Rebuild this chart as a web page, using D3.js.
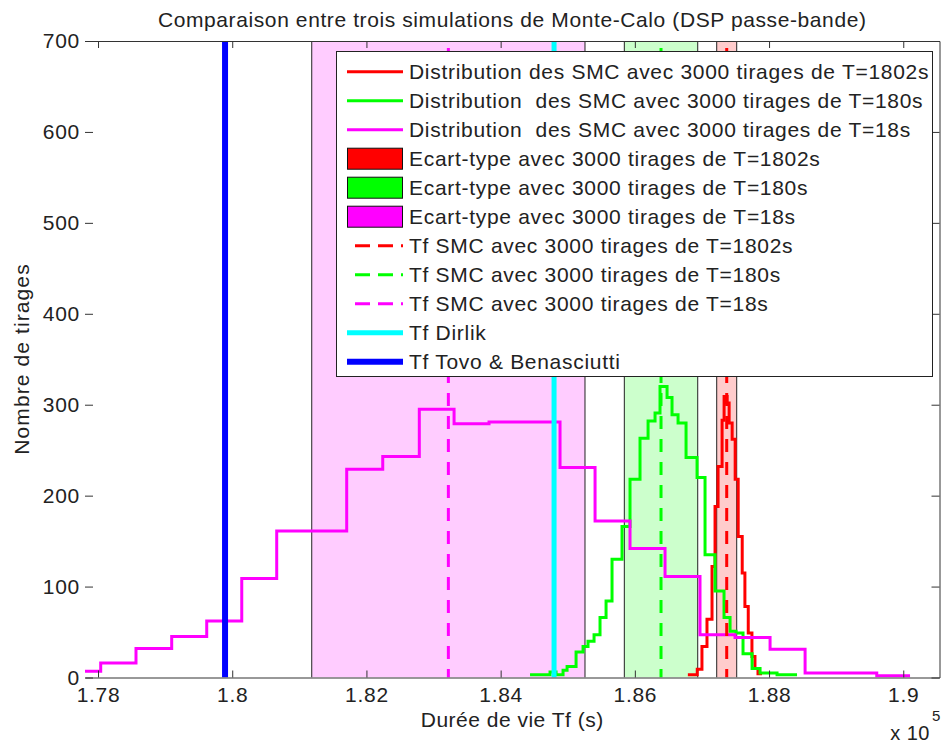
<!DOCTYPE html>
<html>
<head>
<meta charset="utf-8">
<script src="https://cdn.jsdelivr.net/npm/d3@7"></script>
<style>
  html, body { margin: 0; padding: 0; background: #fff; }
  svg { display: block; font-family: "Liberation Sans", Arial, sans-serif; }
</style>
</head>
<body>
<svg id="chart" width="941" height="744"></svg>
<script>
// Monte-Carlo fatigue-life histograms (bin edges in s, counts per bin)
const edges18 = [177516, 178040, 178566, 179098, 179620, 180142, 180663, 181185, 181706,
  182243, 182788, 183306, 183827, 184349, 184885, 185407, 185928, 186450, 186971, 187493,
  188015, 188537, 189058, 189605, 190101];
const counts18 = [7, 16, 32, 45, 62, 109, 161, 161, 229, 243, 295, 279, 281, 281, 231, 172,
  142, 111, 47, 44, 31, 5, 5, 2];

const edges180 = [184438, 184736, 184826, 184930, 184990, 185124, 185228, 185302, 185392,
  185481, 185571, 185660, 185809, 185928, 186077, 186197, 186301, 186375, 186480, 186554,
  186644, 186763, 186927, 187046, 187195, 187329, 187419, 187508, 187612, 187747, 187866,
  188119, 188417];
const counts180 = [3, 6, 3, 8, 12, 28, 34, 40, 47, 66, 84, 130, 166, 218, 263, 282, 291, 320,
  308, 289, 280, 242, 220, 135, 95, 66, 51, 49, 26, 10, 5, 3];

const edges1802 = [186790, 186930, 187000, 187075, 187150, 187195, 187240, 187300, 187330,
  187375, 187405, 187450, 187495, 187540, 187600, 187640, 187690, 187745, 187790, 187835,
  187895];
const counts1802 = [3, 9, 34, 64, 122, 188, 232, 283, 309, 302, 280, 262, 218, 155, 115, 78,
  49, 23, 10, 4];

// Mean life and standard deviation of each simulation (s)
const simNames = ["T=1802s", "T=180s", "T=18s"];
const simMeans = [187369, 186390, 183221];
const simStds = [149, 547, 2036];

// Analytical estimates (s)
const tfDirlik = 184796;
const tfTovo = 179893;

// Axis ticks
const xTickValues = [178000, 180000, 182000, 184000, 186000, 188000, 190000];
const yTickValues = [0, 100, 200, 300, 400, 500, 600, 700];

const RED = "#ff0000", GREEN = "#00ff00", MAGENTA = "#ff00ff", CYAN = "#00ffff", BLUE = "#0000ff";
const simColors = [RED, GREEN, MAGENTA];
const TEXT = "#222";

const svg = d3.select("#chart");
const pLeft = 85, pRight = 939.5, pTop = 41, pBottom = 677.5;

const x = d3.scaleLinear().domain([177806, 190540]).range([pLeft, pRight]);
const y = d3.scaleLinear().domain([0, 700]).range([pBottom, pTop]);

svg.append("defs").append("clipPath").attr("id", "plotClip")
  .append("rect").attr("x", pLeft).attr("y", pTop)
  .attr("width", pRight - pLeft).attr("height", pBottom - pTop);

const plot = svg.append("g").attr("clip-path", "url(#plotClip)");

// Standard-deviation bands (mean ± std)
simMeans.forEach((m, i) => {
  const x0 = x(m - simStds[i]), x1 = x(m + simStds[i]);
  plot.append("rect")
    .attr("x", x0).attr("y", y(700)).attr("width", x1 - x0).attr("height", y(0) - y(700))
    .attr("fill", simColors[i]).attr("fill-opacity", 0.2);
  [x0, x1].forEach(xx => plot.append("line")
    .attr("x1", xx).attr("x2", xx).attr("y1", y(0)).attr("y2", y(700))
    .attr("stroke", "#222").attr("stroke-width", 1));
});

// Histogram stairs
const stairs = d3.line().x(d => x(d[0])).y(d => y(d[1])).curve(d3.curveStepAfter);
function stairPoints(edges, counts) {
  const pts = counts.map((c, i) => [edges[i], c]);
  pts.push([edges[edges.length - 1], counts[counts.length - 1]]);
  return pts;
}
[[edges1802, counts1802, RED], [edges180, counts180, GREEN], [edges18, counts18, MAGENTA]]
  .forEach(([e, c, col]) => plot.append("path")
    .attr("d", stairs(stairPoints(e, c)))
    .attr("fill", "none").attr("stroke", col).attr("stroke-width", 3));

// Mean-life dashed markers
simMeans.forEach((m, i) => plot.append("line")
  .attr("x1", x(m)).attr("x2", x(m)).attr("y1", y(700)).attr("y2", y(0))
  .attr("stroke", simColors[i]).attr("stroke-width", 3)
  .attr("stroke-dasharray", "13 10").attr("stroke-dashoffset", -7));

// Dirlik and Tovo & Benasciutti estimates
plot.append("line").attr("x1", x(tfDirlik)).attr("x2", x(tfDirlik))
  .attr("y1", y(0)).attr("y2", y(700)).attr("stroke", CYAN).attr("stroke-width", 5);
plot.append("line").attr("x1", x(tfTovo)).attr("x2", x(tfTovo))
  .attr("y1", y(0)).attr("y2", y(700)).attr("stroke", BLUE).attr("stroke-width", 6);

// Axes (ticks drawn inside the box)
const axisColor = "#333";
const fmtX = d => String(+(d / 1e5).toFixed(2));
const gx = svg.append("g").attr("transform", `translate(0,${pBottom})`)
  .call(d3.axisBottom(x).tickValues(xTickValues).tickFormat(fmtX)
    .tickSizeInner(-7).tickSizeOuter(0).tickPadding(10));
const gxTop = svg.append("g").attr("transform", `translate(0,${pTop})`)
  .call(d3.axisTop(x).tickValues(xTickValues).tickFormat("")
    .tickSizeInner(-7).tickSizeOuter(0));
const gy = svg.append("g").attr("transform", `translate(${pLeft},0)`)
  .call(d3.axisLeft(y).tickValues(yTickValues).tickSizeInner(-8).tickSizeOuter(0).tickPadding(5));
gy.select(".domain").remove();
const gyRight = svg.append("g").attr("transform", `translate(${pRight},0)`)
  .call(d3.axisRight(y).tickValues(yTickValues).tickFormat("").tickSizeInner(-8).tickSizeOuter(0));

[gx, gxTop, gy, gyRight].forEach(g => {
  g.selectAll(".domain").attr("stroke", axisColor);
  g.selectAll(".tick line").attr("stroke", axisColor);
  g.selectAll(".tick text").attr("fill", TEXT)
    .style("font-family", '"Liberation Sans", Arial, sans-serif')
    .style("font-size", "21px").style("letter-spacing", "0.7px");
});

// Exponent marker for the x axis
const expo = svg.append("g").attr("fill", TEXT);
expo.append("text").attr("x", 930).attr("y", 740).attr("text-anchor", "end")
  .style("font-size", "20px").style("letter-spacing", "0.5px").text("x 10");
expo.append("text").attr("x", 932).attr("y", 721)
  .style("font-size", "15px").text("5");

// Titles
svg.append("text").attr("x", (pLeft + pRight) / 2).attr("y", 27).attr("text-anchor", "middle")
  .attr("fill", TEXT).style("font-size", "21px").style("letter-spacing", "0.6px")
  .text("Comparaison entre trois simulations de Monte-Calo (DSP passe-bande)");
svg.append("text").attr("x", (pLeft + pRight) / 2).attr("y", 727).attr("text-anchor", "middle")
  .attr("fill", TEXT).style("font-size", "21px").style("letter-spacing", "0.5px")
  .text("Durée de vie Tf (s)");
svg.append("text").attr("transform", "translate(29,359) rotate(-90)").attr("text-anchor", "middle")
  .attr("fill", TEXT).style("font-size", "21px").style("letter-spacing", "1.1px")
  .text("Nombre de tirages");

// Legend
const legendItems = [
  { label: "Distribution des SMC avec 3000 tirages de T=1802s", kind: "line", color: RED, w: 3 },
  { label: "Distribution  des SMC avec 3000 tirages de T=180s", kind: "line", color: GREEN, w: 3 },
  { label: "Distribution  des SMC avec 3000 tirages de T=18s", kind: "line", color: MAGENTA, w: 3 },
  { label: "Ecart-type avec 3000 tirages de T=1802s", kind: "patch", color: RED },
  { label: "Ecart-type avec 3000 tirages de T=180s", kind: "patch", color: GREEN },
  { label: "Ecart-type avec 3000 tirages de T=18s", kind: "patch", color: MAGENTA },
  { label: "Tf SMC avec 3000 tirages de T=1802s", kind: "dash", color: RED, w: 3 },
  { label: "Tf SMC avec 3000 tirages de T=180s", kind: "dash", color: GREEN, w: 3 },
  { label: "Tf SMC avec 3000 tirages de T=18s", kind: "dash", color: MAGENTA, w: 3 },
  { label: "Tf Dirlik", kind: "line", color: CYAN, w: 5 },
  { label: "Tf Tovo & Benasciutti", kind: "line", color: BLUE, w: 6 }
];
const lg = svg.append("g");
lg.append("rect").attr("x", 336.5).attr("y", 51.5).attr("width", 596).attr("height", 325)
  .attr("fill", "#fff").attr("stroke", "#222").attr("stroke-width", 1);
const rowY = i => 71.7 + i * 29;
legendItems.forEach((it, i) => {
  const cy = rowY(i);
  if (it.kind === "patch") {
    lg.append("rect").attr("x", 347.5).attr("y", cy - 10.5).attr("width", 55).attr("height", 21)
      .attr("fill", it.color).attr("stroke", "#111").attr("stroke-width", 1);
  } else if (it.kind === "dash") {
    lg.append("line").attr("x1", 355).attr("x2", 403).attr("y1", cy).attr("y2", cy)
      .attr("stroke", it.color).attr("stroke-width", it.w).attr("stroke-dasharray", "15 8");
  } else {
    lg.append("line").attr("x1", 347).attr("x2", 403).attr("y1", cy).attr("y2", cy)
      .attr("stroke", it.color).attr("stroke-width", it.w);
  }
  lg.append("text").attr("x", 409).attr("y", cy + 7).attr("fill", TEXT)
    .style("font-size", "21px").style("letter-spacing", "0.7px")
    .style("white-space", "pre").text(it.label);
});
</script>
</body>
</html>
